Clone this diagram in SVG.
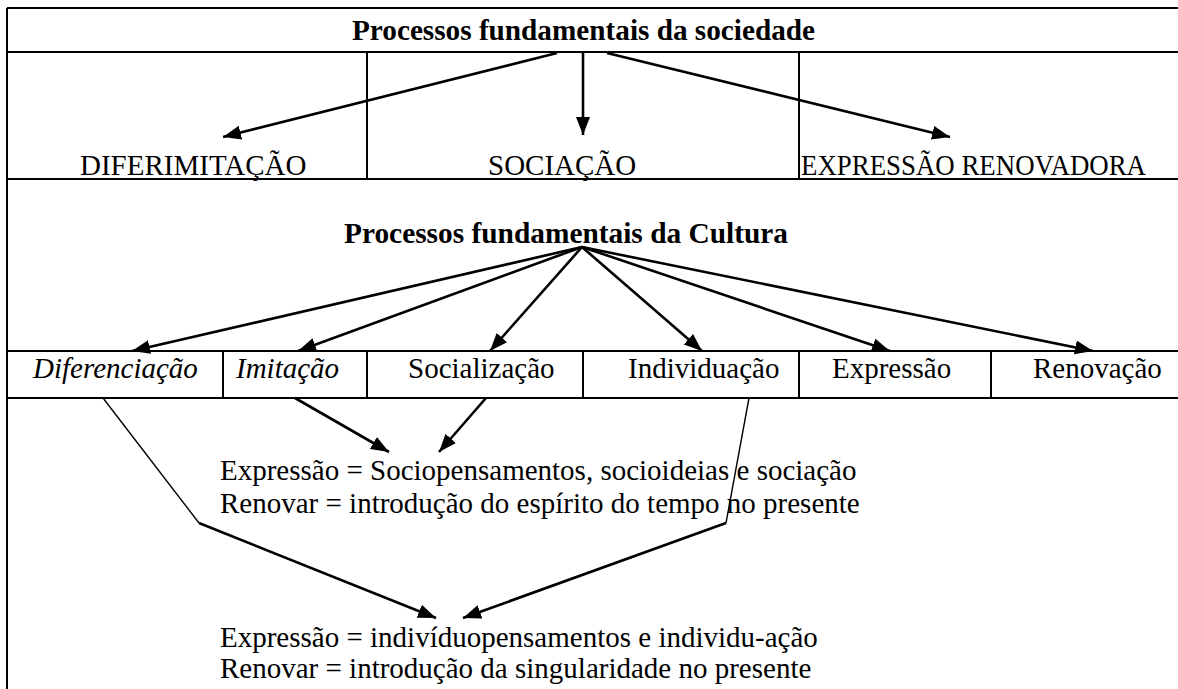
<svg xmlns="http://www.w3.org/2000/svg" width="1178" height="689" viewBox="0 0 1178 689">
<style>
text{font-family:"Liberation Serif","Times New Roman",serif;font-size:29px;fill:#000}
.b{font-weight:bold}
.i{font-style:italic}
.frame{stroke:#000;stroke-width:2;fill:none}
.arr{stroke:#000;stroke-width:2.6;fill:none;marker-end:url(#ah)}
.thin{stroke:#000;stroke-width:1.4;fill:none}
</style>
<defs>
<marker id="ah" markerUnits="userSpaceOnUse" markerWidth="20" markerHeight="16" refX="18" refY="7" orient="auto">
<path d="M0,0 L18,7 L0,14 z" fill="#000"/>
</marker>
</defs>
<rect width="1178" height="689" fill="#fff"/>
<g id="frame">
<path class="frame" d="M7,8 V689 M7,8 H1178 M7,52 H1178 M7,179 H1178 M367,52 V179 M799,52 V179"/>
<path class="frame" d="M7,351 H1178 M7,398 H1178 M223,351 V398 M367,351 V398 M583,351 V398 M799,351 V398 M991,351 V398"/>
</g>
<g id="n-sociedade"><text class="b" x="352" y="40" textLength="463" lengthAdjust="spacingAndGlyphs">Processos fundamentais da sociedade</text></g>
<g id="n-diferimitacao"><text x="80" y="175">DIFERIMITAÇÃO</text></g>
<g id="n-sociacao"><text x="488" y="175">SOCIAÇÃO</text></g>
<g id="n-expressao-renovadora"><text x="801" y="175" textLength="345" lengthAdjust="spacingAndGlyphs">EXPRESSÃO RENOVADORA</text></g>
<g id="n-cultura"><text class="b" x="344" y="243" textLength="444" lengthAdjust="spacingAndGlyphs">Processos fundamentais da Cultura</text></g>
<g id="n-diferenciacao"><text class="i" x="33" y="378">Diferenciação</text></g>
<g id="n-imitacao"><text class="i" x="236" y="378">Imitação</text></g>
<g id="n-socializacao"><text x="408" y="378">Socialização</text></g>
<g id="n-individuacao"><text x="628" y="378">Individuação</text></g>
<g id="n-expressao"><text x="832" y="378">Expressão</text></g>
<g id="n-renovacao"><text x="1033" y="378">Renovação</text></g>
<g id="n-socio">
<text x="220" y="480">Expressão = Sociopensamentos, socioideias e sociação</text>
<text x="220" y="513">Renovar = introdução do espírito do tempo no presente</text>
</g>
<g id="n-indiv">
<text x="220" y="647">Expressão = indivíduopensamentos e individu-ação</text>
<text x="220" y="678">Renovar = introdução da singularidade no presente</text>
</g>
<g id="connectors">
<line class="arr" x1="557" y1="53" x2="223" y2="137"/>
<line class="arr" x1="583" y1="53" x2="583" y2="135"/>
<line class="arr" x1="607" y1="53" x2="950" y2="137"/>
<line class="arr" x1="582" y1="247" x2="132" y2="351"/>
<line class="arr" x1="582" y1="247" x2="298" y2="351"/>
<line class="arr" x1="582" y1="247" x2="490" y2="351"/>
<line class="arr" x1="582" y1="247" x2="702" y2="351"/>
<line class="arr" x1="582" y1="247" x2="890" y2="351"/>
<line class="arr" x1="582" y1="247" x2="1093" y2="351"/>
<line class="arr" x1="295" y1="398" x2="389" y2="452"/>
<line class="arr" x1="486" y1="398" x2="439" y2="452"/>
<line class="thin" x1="103" y1="398" x2="199" y2="523"/>
<line class="arr" x1="199" y1="523" x2="436" y2="618"/>
<line class="thin" x1="749" y1="398" x2="726" y2="523"/>
<line class="arr" x1="726" y1="523" x2="463" y2="618"/>
</g>
</svg>
